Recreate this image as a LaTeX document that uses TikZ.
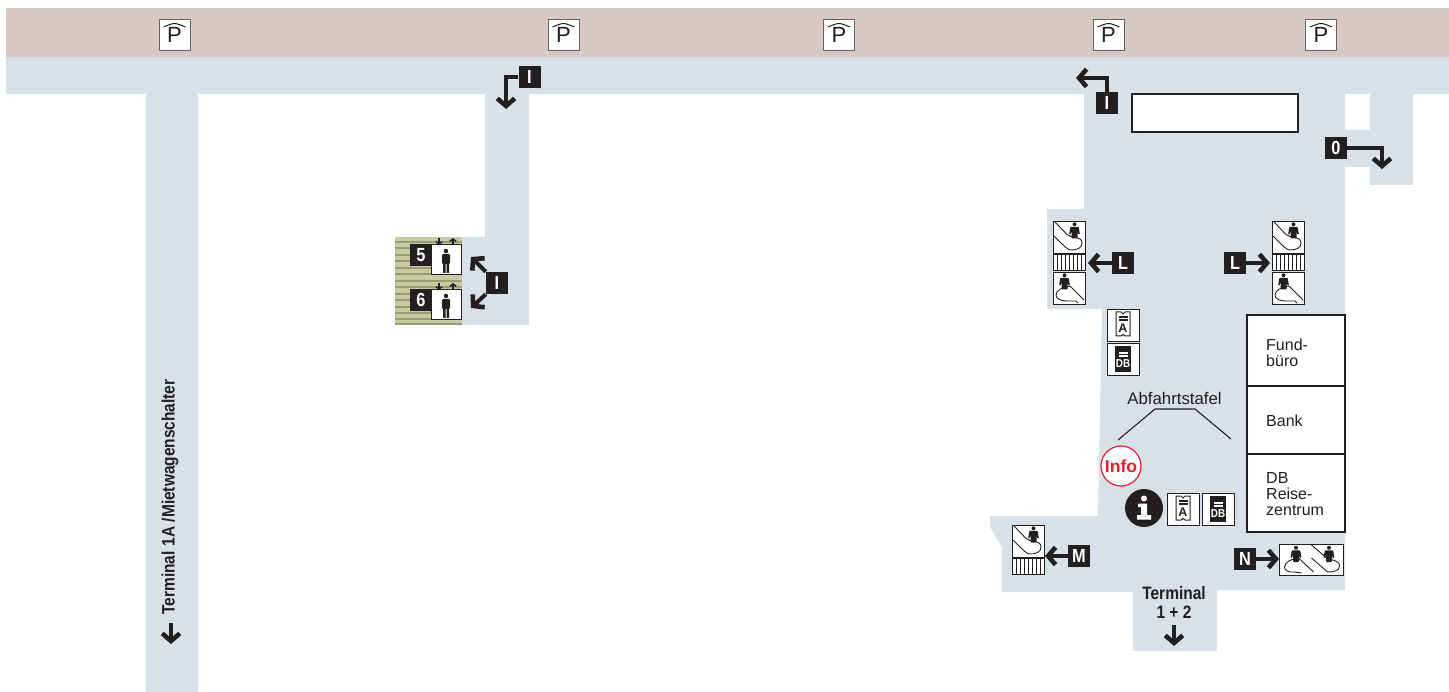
\documentclass[tikz,border=0pt]{standalone}
\usepackage{fontspec}
\setmainfont{Liberation Sans}
\newfontfamily\condb[FakeStretch=0.86]{Liberation Sans Bold}
\usetikzlibrary{arrows.meta}
\definecolor{ink}{HTML}{231F20}
\definecolor{floorblue}{HTML}{D8E1E8}
\definecolor{parkbrown}{HTML}{D9C9C4}
\definecolor{hatchbase}{HTML}{C9C9A6}
\definecolor{hatchline}{HTML}{93A06F}
\definecolor{infored}{HTML}{E8202E}
\tikzset{
  x=1pt,y=-1pt,
  lab/.style={fill=ink,text=white,minimum size=22pt,inner sep=0pt,font=\condb\fontsize{19}{19}\selectfont},
  arr/.style={draw=ink,line width=4pt,-{Straight Barb[length=7.5pt,width=17.5pt,line width=4.6pt]}},
  thin icon/.style={draw=ink,line width=0.8pt,fill=white},
  band/.style={draw=ink,line width=0.9pt},
  room/.style={draw=ink,line width=2pt,fill=white},
  roomtext/.style={anchor=west,align=left,inner sep=0pt,text=ink,font=\fontsize{16}{16}\selectfont},
  parksign/.style={draw=ink!70,line width=0.9pt,fill=white,minimum size=31pt,inner sep=0pt},
  boldtext/.style={text=ink,inner sep=0pt,align=center,font=\condb\fontsize{18}{18.5}\selectfont},
}
\newcommand\parking[3]{%
  \node[parksign,font=\fontsize{22}{22}\selectfont,text=ink] (#1) at (#2,#3) {\raisebox{-3pt}{P}};
  \draw[ink,line width=1pt] (#2-11,#3-8) .. controls (#2-5,#3-10.5) and (#2-2,#3-11.5) .. (#2,#3-11.5) .. controls (#2+2,#3-11.5) and (#2+5,#3-10.5) .. (#2+11,#3-8);
}
\newcommand\esfig[2]{% small figure centred on head x, top y
  \begin{scope}[shift={(#1,#2)}]
    \fill[ink] (0,1.8) circle (2);
    \fill[ink,rounded corners=0.8pt] (-4.2,4.4) -- (4.2,4.4) -- (5.4,12) -- (4,12) -- (3,8.5) -- (3,16) -- (-3,16) -- (-3,8.5) -- (-4,12) -- (-5.4,12) -- cycle;
  \end{scope}}
\newcommand\escdown[2]{% 32 box, figure at upper right
  \begin{scope}[shift={(#1,#2)}]
    \draw[thin icon] (0,0) rectangle (32,32);
    \draw[band] (2,1) -- (14,13.5) .. controls (18,17.5) and (28,14.5) .. (29,21.5) .. controls (29.5,27) and (24,29) .. (18,29) .. controls (15,29) and (13,27) .. (1,15);
  \end{scope}
  \esfig{#1+21.5}{#2+1.5}}
\newcommand\escup[2]{% 32 box, figure at upper left
  \begin{scope}[shift={(#1,#2)}]
    \draw[thin icon] (0,0) rectangle (32,32);
    \draw[band] (17,14) -- (31,28);
    \draw[band] (17,14) .. controls (10,15) and (3,18) .. (3,23) .. controls (3,27) and (8,29) .. (14,29) -- (23,29) -- (25,31);
  \end{scope}
  \esfig{#1+11.5}{#2+1.5}}
\newcommand\gridicon[2]{%
  \begin{scope}[shift={(#1,#2)}]
    \draw[thin icon] (0,0) rectangle (32,16);
    \foreach \k in {4,8,12,16,20,24,28} \draw[ink,line width=0.9pt] (\k,0) -- (\k,16);
  \end{scope}}
\newcommand\ticketA[2]{%
  \begin{scope}[shift={(#1,#2)}]
    \draw[thin icon] (0,0) rectangle (32,32);
    \draw[ink,line width=1pt] (9,3) -- (14,3) -- (16,5) -- (18,3) -- (23,3) -- (23,27) -- (18,27) -- (16,25.5) -- (14,27) -- (9,27) -- cycle;
    \draw[ink,line width=1.1pt] (11.5,8) -- (20.5,8) (11.5,11) -- (20.5,11);
    \node[inner sep=0pt,text=ink,font=\bfseries\fontsize{12.5}{12.5}\selectfont] at (16,19) {A};
  \end{scope}}
\newcommand\ticketDB[2]{%
  \begin{scope}[shift={(#1,#2)}]
    \draw[thin icon] (0,0) rectangle (32,32);
    \fill[ink] (8,3) rectangle (24,29);
    \draw[white,line width=1.2pt] (11.5,10) -- (20.5,10) (11.5,13) -- (20.5,13);
    \node[inner sep=0pt,text=white,font=\condb\fontsize{11.5}{11.5}\selectfont] at (16,21) {DB};
  \end{scope}}
\newcommand\liftfig[2]{%
  \begin{scope}[shift={(#1,#2)}]
    \fill[ink] (0,-9) circle (2.2);
    \fill[ink,rounded corners=1.2pt] (-4,-6) rectangle (4,4);
    \fill[ink] (-3,3) rectangle (-0.5,13) (0.5,3) rectangle (3,13);
  \end{scope}}
\newcommand\smallarrows[2]{%
  \draw[ink,line width=1.4pt,-{Straight Barb[length=2.5pt,width=6.5pt,line width=1.4pt]}] (#1,#2) -- (#1,#2+7);
  \draw[ink,line width=1.4pt,-{Straight Barb[length=2.5pt,width=6.5pt,line width=1.4pt]}] (#1+14,#2+7) -- (#1+14,#2);
}
\begin{document}
\begin{tikzpicture}
\useasboundingbox (0,0) rectangle (1449,692);
\fill[white] (0,0) rectangle (1449,692);
% areas
\fill[parkbrown] (6,8) rectangle (1449,57);
\fill[floorblue] (6,57) rectangle (1449,94);
\fill[floorblue] (146,94) rectangle (198,692);
\fill[floorblue] (485,94) -- (529,94) -- (529,325) -- (462,325) -- (462,237) -- (485,237) -- cycle;
\fill[floorblue] (1084,94) -- (1345,94) -- (1345,130) -- (1370,130) -- (1370,94) -- (1413,94) -- (1413,185) -- (1370,185) -- (1370,167) -- (1345,167) -- (1345,590) -- (1217,590) -- (1217,651) -- (1133,651) -- (1133,592) -- (1002,592) -- (1002,547) -- (990,527) -- (990,516) -- (1098,516) -- (1102,309) -- (1047,309) -- (1047,209) -- (1084,209) -- cycle;
% hatch
\fill[hatchbase] (395,237) rectangle (462,325);
\foreach \y in {241,247,254,260,267,273,280,286,293,299,306,312,318,323}
  \fill[hatchline] (395,\y) rectangle (462,\y+2);
% parking
\parking{p1}{174.5}{35}
\parking{p2}{563.5}{35}
\parking{p3}{839}{35}
\parking{p4}{1108.5}{35}
\parking{p5}{1321}{35}
% rooms
\node[draw=ink,line width=1.5pt,fill=white,minimum width=166pt,minimum height=38pt,inner sep=0pt] (blank) at (1215,113) {};
\draw[room] (1247,315) rectangle (1345,386);
\draw[room] (1247,386) rectangle (1345,454);
\draw[room] (1247,454) rectangle (1345,532);
\node[roomtext] (fund) at (1266,353) {Fund-\\büro};
\node[roomtext] (bank) at (1266,421) {Bank};
\node[roomtext] (dbr) at (1266,494) {DB\\Reise-\\zentrum};
% departures
\node[inner sep=0pt,text=ink,font=\fontsize{16.8}{17}\selectfont] (abf) at (1174.5,398) {Abfahrtstafel};
\draw[ink,line width=1.1pt] (1118,440) -- (1155,409) -- (1195,409) -- (1231,439);
% info
\node[circle,draw=infored,line width=1.2pt,fill=white,minimum size=40pt,inner sep=0pt,text=infored,font=\bfseries\fontsize{17.5}{17.5}\selectfont] (info) at (1121,466) {Info};
\node[circle,fill=ink,minimum size=38pt,inner sep=0pt] (ii) at (1144,508) {};
\fill[white] (1144,498.5) circle (3);
\fill[white] (1138,503.5) rectangle (1147,507) (1141,503.5) rectangle (1147,517) (1137,515) rectangle (1151,519.5);
\ticketA{1167}{493}
\ticketDB{1202}{493}
\ticketA{1107}{309}
\ticketDB{1107}{343}
% elevators
\node[draw=ink,line width=1pt,fill=white,minimum size=30pt,inner sep=0pt] (lift5) at (446,260) {};
\node[draw=ink,line width=1pt,fill=white,minimum size=30pt,inner sep=0pt] (lift6) at (446,305) {};
\liftfig{446}{260}
\liftfig{446}{305}
\smallarrows{439}{238}
\smallarrows{439}{283}
\node[lab] (n5) at (421,255) {5};
\node[lab] (n6) at (421,300) {6};
% escalators
\escdown{1053}{221}
\gridicon{1053}{254}
\escup{1053}{272}
\escdown{1272}{221}
\gridicon{1272}{254}
\escup{1272}{272}
\escdown{1012}{525}
\gridicon{1012}{558}
% double escalator
\draw[thin icon] (1279.5,544.5) rectangle (1343,575);
\begin{scope}[shift={(1279.5,544)}]
  \draw[band] (19,14) -- (34,28);
  \draw[band] (19,14) .. controls (12,15) and (5,18) .. (5,23) .. controls (5,27) and (10,28.5) .. (15,28) -- (22,29);
  \draw[band] (32,1) -- (46,13) .. controls (50,17) and (60,15) .. (60,22) .. controls (60,27) and (54,28) .. (48,28) -- (32,14);
\end{scope}
\esfig{1296}{546}
\esfig{1329}{546}
% labels and arrows
\node[lab] (li1) at (529.5,77) {I};
\coordinate (ti1) at (506,109);
\draw[arr] (li1.west) -| (ti1);
\node[lab] (li2) at (1107,103) {I};
\coordinate (ti2) at (1076,78);
\draw[arr] (li2.north) |- (ti2);
\node[lab] (li3) at (497,283) {I};
\coordinate (ti3a) at (471,257);
\coordinate (ti3b) at (471,308);
\draw[arr] (li3.north west) -- (ti3a);
\draw[arr] (li3.south west) -- (ti3b);
\node[lab] (l0) at (1336,148) {0};
\coordinate (t0) at (1382,169);
\draw[arr] (l0.east) -| (t0);
\node[lab] (ll1) at (1123,263) {L};
\coordinate (tl1) at (1088,263);
\draw[arr] (ll1.west) -- (tl1);
\node[lab] (ll2) at (1235,263) {L};
\coordinate (tl2) at (1270,263);
\draw[arr] (ll2.east) -- (tl2);
\node[lab] (lm) at (1079,556) {M};
\coordinate (tm) at (1045,556);
\draw[arr] (lm.west) -- (tm);
\node[lab] (ln) at (1245,559) {N};
\coordinate (tn) at (1279,559);
\draw[arr] (ln.east) -- (tn);
% texts
\node[boldtext] (t12) at (1174,602.5) {Terminal\\1 + 2};
\coordinate (t12a) at (1174,625);
\coordinate (t12b) at (1174,646);
\draw[arr] (t12a) -- (t12b);
\node[boldtext,rotate=90] (t1a) at (170,497) {Terminal\hspace{5pt}1A /Mietwagenschalter};
\coordinate (t1aa) at (171,623);
\coordinate (t1ab) at (171,644);
\draw[arr] (t1aa) -- (t1ab);
\end{tikzpicture}
\end{document}
